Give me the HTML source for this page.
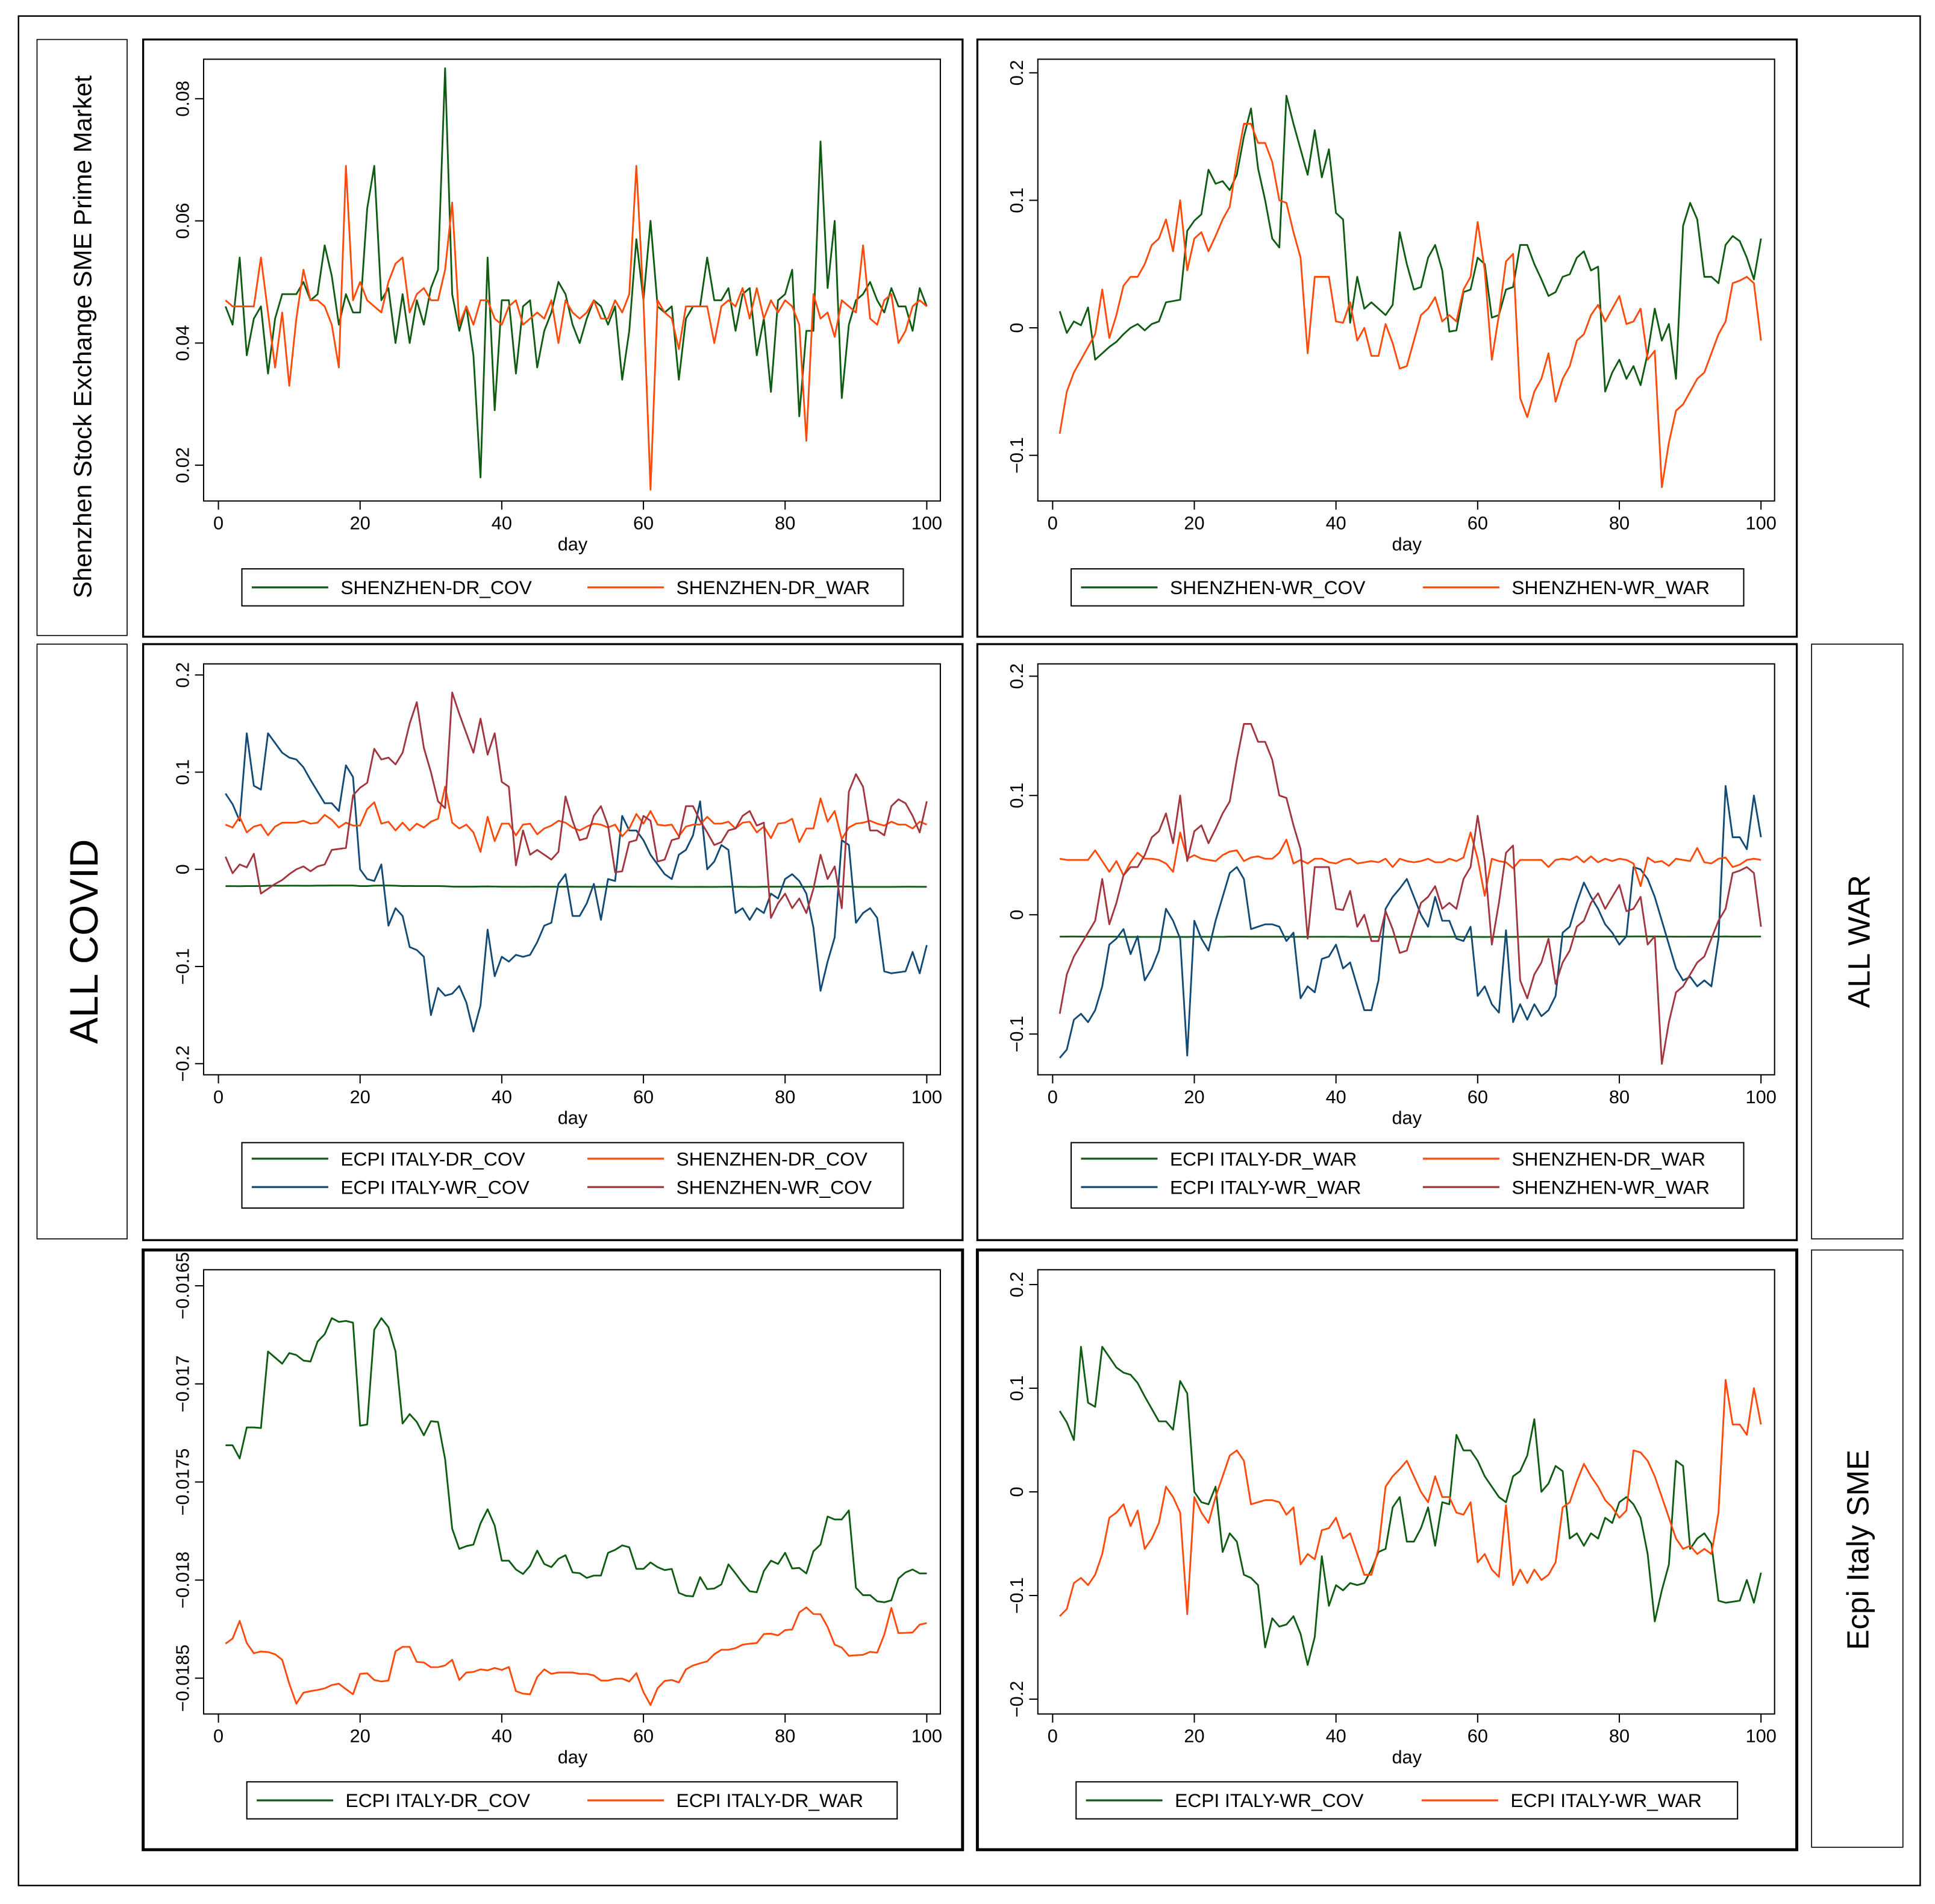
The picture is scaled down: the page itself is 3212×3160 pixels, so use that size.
<!DOCTYPE html>
<html><head><meta charset="utf-8"><style>
html,body{margin:0;padding:0;background:#fff}
svg{display:block}
text{font-family:"Liberation Sans",Arial,sans-serif;fill:#000}
</style></head><body>
<svg id="chart" width="3212" height="3160" viewBox="0 0 1568 1543" preserveAspectRatio="none" xmlns="http://www.w3.org/2000/svg">
<rect x="15" y="13" width="1541" height="1515" fill="none" stroke="#000" stroke-width="1.2"/>
<rect x="30" y="32" width="73" height="483" fill="none" stroke="#000" stroke-width="0.8"/>
<text transform="translate(74,273) rotate(-90)" text-anchor="middle" font-size="20.5">Shenzhen Stock Exchange SME Prime Market</text>
<rect x="30" y="522" width="73" height="482" fill="none" stroke="#000" stroke-width="0.8"/>
<text transform="translate(79,763) rotate(-90)" text-anchor="middle" font-size="32">ALL COVID</text>
<rect x="1468" y="522" width="74" height="482" fill="none" stroke="#000" stroke-width="0.8"/>
<text transform="translate(1515,763) rotate(-90)" text-anchor="middle" font-size="25">ALL WAR</text>
<rect x="1468" y="1013" width="74" height="484" fill="none" stroke="#000" stroke-width="0.8"/>
<text transform="translate(1514,1256) rotate(-90)" text-anchor="middle" font-size="25">Ecpi Italy SME</text>
<g id="panels"></g>
</svg>
<script>
const days = Array.from({length:100},(_,i)=>i+1);
const xTicks = [0,20,40,60,80,100];
const szDrCov = [0.046,0.043,0.054,0.038,0.044,0.046,0.035,0.044,0.048,0.048,0.048,0.050,0.047,0.048,0.056,0.051,0.043,0.048,0.045,0.045,0.062,0.069,0.047,0.049,0.040,0.048,0.040,0.047,0.043,0.049,0.052,0.085,0.048,0.042,0.046,0.038,0.018,0.054,0.029,0.047,0.047,0.035,0.046,0.047,0.036,0.042,0.045,0.050,0.048,0.043,0.040,0.044,0.047,0.046,0.043,0.046,0.034,0.042,0.057,0.047,0.060,0.046,0.045,0.046,0.034,0.044,0.046,0.046,0.054,0.047,0.047,0.049,0.042,0.048,0.049,0.038,0.044,0.032,0.047,0.048,0.052,0.028,0.042,0.042,0.073,0.049,0.060,0.031,0.043,0.047,0.048,0.050,0.047,0.045,0.049,0.046,0.046,0.042,0.049,0.046];
const szDrWar = [0.047,0.046,0.046,0.046,0.046,0.054,0.045,0.036,0.045,0.033,0.044,0.052,0.047,0.047,0.046,0.043,0.036,0.069,0.047,0.050,0.047,0.046,0.045,0.050,0.053,0.054,0.045,0.048,0.049,0.047,0.047,0.052,0.063,0.043,0.046,0.043,0.047,0.047,0.044,0.043,0.046,0.047,0.043,0.044,0.045,0.044,0.047,0.040,0.047,0.045,0.044,0.045,0.047,0.044,0.044,0.047,0.045,0.048,0.069,0.047,0.016,0.047,0.045,0.044,0.039,0.046,0.046,0.046,0.046,0.040,0.046,0.047,0.046,0.049,0.044,0.049,0.044,0.047,0.045,0.047,0.046,0.043,0.024,0.048,0.044,0.045,0.041,0.047,0.046,0.045,0.056,0.044,0.043,0.047,0.048,0.040,0.042,0.046,0.047,0.046];
const szWrCov = [0.013,-0.004,0.005,0.002,0.016,-0.025,-0.020,-0.015,-0.011,-0.005,0.000,0.003,-0.002,0.003,0.005,0.020,0.021,0.022,0.076,0.084,0.089,0.124,0.113,0.115,0.108,0.120,0.150,0.172,0.125,0.100,0.070,0.063,0.182,0.160,0.140,0.120,0.155,0.118,0.140,0.090,0.085,0.004,0.040,0.015,0.020,0.015,0.010,0.018,0.075,0.050,0.030,0.032,0.055,0.065,0.045,-0.003,-0.002,0.028,0.030,0.055,0.050,0.008,0.010,0.030,0.032,0.065,0.065,0.050,0.038,0.025,0.028,0.040,0.042,0.055,0.060,0.045,0.048,-0.050,-0.035,-0.025,-0.040,-0.030,-0.045,-0.020,0.015,-0.010,0.003,-0.040,0.080,0.098,0.085,0.040,0.040,0.035,0.065,0.072,0.068,0.055,0.038,0.070];
const szWrWar = [-0.083,-0.050,-0.035,-0.025,-0.015,-0.005,0.030,-0.008,0.010,0.033,0.040,0.040,0.050,0.065,0.070,0.085,0.060,0.100,0.045,0.070,0.075,0.060,0.072,0.085,0.095,0.130,0.160,0.160,0.145,0.145,0.130,0.100,0.098,0.075,0.055,-0.020,0.040,0.040,0.040,0.005,0.004,0.020,-0.010,0.000,-0.022,-0.022,0.003,-0.012,-0.032,-0.030,-0.010,0.010,0.015,0.024,0.005,0.010,0.005,0.030,0.040,0.083,0.045,-0.025,0.010,0.052,0.058,-0.055,-0.070,-0.050,-0.040,-0.020,-0.058,-0.040,-0.030,-0.010,-0.005,0.010,0.018,0.005,0.015,0.025,0.003,0.005,0.015,-0.025,-0.018,-0.125,-0.090,-0.065,-0.060,-0.050,-0.040,-0.035,-0.020,-0.005,0.005,0.035,0.037,0.040,0.035,-0.010];
const ecDrCov = [-0.017313,-0.017313,-0.01738,-0.017222,-0.017222,-0.017225,-0.016835,-0.016866,-0.016897,-0.016843,
-0.016853,-0.016881,-0.016886,-0.016784,-0.016747,-0.016665,-0.016684,-0.016679,-0.016688,-0.017213,
-0.017207,-0.016724,-0.016665,-0.016711,-0.016835,-0.017202,-0.017154,-0.017194,-0.017262,-0.01719,
-0.017194,-0.017383,-0.017738,-0.017841,-0.017827,-0.017819,-0.017711,-0.017639,-0.017722,-0.017901,
-0.017901,-0.017946,-0.017969,-0.017927,-0.01785,-0.017918,-0.017934,-0.017892,-0.017873,-0.017961,
-0.017965,-0.017989,-0.017977,-0.017977,-0.017861,-0.017846,-0.017823,-0.017833,-0.017943,-0.017943,
-0.01791,-0.017934,-0.017949,-0.017943,-0.018065,-0.01808,-0.018083,-0.017985,-0.018046,-0.018043,
-0.018022,-0.01792,-0.017966,-0.018015,-0.018057,-0.018062,-0.017954,-0.017901,-0.017918,-0.017861,
-0.017941,-0.017938,-0.017966,-0.017853,-0.017819,-0.017676,-0.017691,-0.017691,-0.017645,-0.018039,
-0.018077,-0.018077,-0.018108,-0.018113,-0.018103,-0.017992,-0.017961,-0.017946,-0.017966,-0.017966];
const ecDrWar = [-0.018324,-0.018298,-0.018208,-0.018321,-0.018373,-0.018364,-0.018367,-0.018378,-0.018406,-0.018528,
-0.01863,-0.018574,-0.018566,-0.01856,-0.018552,-0.018535,-0.018528,-0.018556,-0.018582,-0.018478,
-0.018475,-0.018509,-0.018517,-0.018512,-0.018363,-0.01834,-0.01834,-0.018417,-0.01842,-0.018444,
-0.018444,-0.018435,-0.018406,-0.018509,-0.018471,-0.018468,-0.018455,-0.01846,-0.018448,-0.018458,
-0.018443,-0.018566,-0.018579,-0.018582,-0.018494,-0.018455,-0.018478,-0.018471,-0.018471,-0.018471,
-0.018478,-0.018478,-0.018486,-0.018512,-0.018512,-0.018503,-0.018502,-0.018517,-0.018474,-0.018571,
-0.018637,-0.018551,-0.018514,-0.018509,-0.018522,-0.018455,-0.018435,-0.018424,-0.018414,-0.018378,
-0.018355,-0.018355,-0.018347,-0.018329,-0.018324,-0.018321,-0.018275,-0.018273,-0.018282,-0.018255,
-0.018252,-0.018165,-0.018139,-0.018173,-0.018174,-0.018239,-0.018329,-0.018344,-0.018386,-0.018383,
-0.018381,-0.018366,-0.01837,-0.018278,-0.018142,-0.01827,-0.018269,-0.018267,-0.018227,-0.018219];
const ecWrCov = [0.078,0.067,0.050,0.140,0.086,0.082,0.140,0.130,0.120,0.115,0.113,0.105,0.092,0.080,0.068,0.068,0.060,0.107,0.095,0.000,-0.010,-0.012,0.005,-0.058,-0.040,-0.048,-0.080,-0.083,-0.090,-0.150,-0.122,-0.130,-0.128,-0.120,-0.137,-0.167,-0.140,-0.062,-0.110,-0.090,-0.095,-0.088,-0.090,-0.088,-0.075,-0.058,-0.055,-0.015,-0.005,-0.048,-0.048,-0.035,-0.015,-0.052,-0.010,-0.012,0.055,0.040,0.040,0.030,0.015,0.005,-0.005,-0.010,0.015,0.020,0.035,0.070,0.000,0.008,0.025,0.020,-0.045,-0.040,-0.052,-0.040,-0.045,-0.025,-0.030,-0.010,-0.005,-0.012,-0.025,-0.060,-0.125,-0.095,-0.070,0.030,0.025,-0.055,-0.045,-0.040,-0.050,-0.105,-0.107,-0.106,-0.105,-0.085,-0.107,-0.078];
const ecWrWar = [-0.120,-0.113,-0.088,-0.083,-0.090,-0.080,-0.060,-0.025,-0.020,-0.012,-0.033,-0.018,-0.055,-0.045,-0.030,0.005,-0.005,-0.020,-0.118,-0.005,-0.020,-0.030,-0.005,0.015,0.035,0.040,0.030,-0.012,-0.010,-0.008,-0.008,-0.010,-0.022,-0.015,-0.070,-0.060,-0.065,-0.037,-0.035,-0.025,-0.045,-0.040,-0.060,-0.080,-0.080,-0.055,0.005,0.015,0.022,0.030,0.015,0.000,-0.010,0.015,-0.005,-0.005,-0.020,-0.022,-0.010,-0.068,-0.060,-0.075,-0.082,-0.013,-0.090,-0.075,-0.088,-0.075,-0.085,-0.080,-0.068,-0.015,-0.010,0.010,0.027,0.015,0.005,-0.008,-0.015,-0.025,-0.018,0.040,0.038,0.030,0.015,-0.005,-0.025,-0.045,-0.055,-0.052,-0.060,-0.055,-0.060,-0.020,0.108,0.065,0.065,0.055,0.100,0.065];
const ticksTL = [0.02,0.04,0.06,0.08];
const labelsTL = ["0.02","0.04","0.06","0.08"];
const ticksWide = [-0.2,-0.1,0,0.1,0.2];
const labelsWide = ["\u22120.2","\u22120.1","0","0.1","0.2"];
const ticksTR = [-0.1,0,0.1,0.2];
const labelsTR = ["\u22120.1","0","0.1","0.2"];
const ticksBL = [-0.0185,-0.018,-0.0175,-0.017,-0.0165];
const labelsBL = ["\u22120.0185","\u22120.018","\u22120.0175","\u22120.017","\u22120.0165"];

const GREEN="#0e5c12", ORANGE="#ff4a0a", NAVY="#114a76", MAROON="#a2353d";
const NS="http://www.w3.org/2000/svg";
const root=document.getElementById('panels');
function mk(tag,attrs,parent){const e=document.createElementNS(NS,tag);for(const k in attrs)e.setAttribute(k,attrs[k]);(parent||root).appendChild(e);return e;}

function panel(cfg){
  const g=mk('g',{});
  
  
  const ox=cfg.ox, oy=cfg.oy;
  const frame=mk('rect',{x:ox,y:oy,width:664,height:cfg.h,fill:'none',stroke:'#000','stroke-width':cfg.thick?2.4:1.6},g);
  
  
  const px0=ox+49, px1=ox+646, py0=oy+16, py1=cfg.py1;
  const dx0=ox+61, dx1=ox+635;
  const xs=d=>dx0+(dx1-dx0)*d/100;
  const ys=v=>cfg.yp0+(cfg.yp1-cfg.yp0)*(v-cfg.yv0)/(cfg.yv1-cfg.yv0);
  const box=mk('rect',{x:px0,y:py0,width:px1-px0,height:py1-py0,fill:'none',stroke:'#000','stroke-width':1},g);
  
  
  cfg.yt.forEach((v,i)=>{
    const y=ys(v);
    const tk=mk('line',{x1:px0-7,x2:px0,y1:y,y2:y,stroke:'#000','stroke-width':1},g);
    
    
    const t=mk('text',{transform:`translate(${px0-12},${y}) rotate(-90)`,'text-anchor':'middle','font-size':15},g);
    
    
    t.textContent=cfg.yl[i];
  });
  xTicks.forEach(d=>{
    const x=xs(d);
    const tk=mk('line',{x1:x,x2:x,y1:py1,y2:py1+7,stroke:'#000','stroke-width':1},g);
    
    
    const t=mk('text',{x:x,y:py1+23,'text-anchor':'middle','font-size':15},g);
    
    
    t.textContent=d;
  });
  const xt=mk('text',{x:(dx0+dx1)/2,y:py1+40,'text-anchor':'middle','font-size':15},g);
  
  
  xt.textContent='day';
  cfg.series.forEach(s=>{
    const pts=s.data.map((v,i)=>xs(days[i]).toFixed(2)+','+ys(v).toFixed(2)).join(' ');
    const pl=mk('polyline',{points:pts,fill:'none',stroke:s.color,'stroke-width':1.4,'stroke-linejoin':'round'},g);
    
    
  });
  const lx=ox+cfg.lx, lw=cfg.lw, rows=Math.ceil(cfg.series.length/2);
  const ly=py1+55, lh=rows===1?30:53;
  const lg=mk('g',{},g);
  
  
  mk('rect',{x:lx,y:ly,width:lw,height:lh,fill:'none',stroke:'#000','stroke-width':1},lg);
  cfg.legendOrder.forEach((si,k)=>{
    const s=cfg.series[si];
    const col=k%2, row=Math.floor(k/2);
    const ex=lx+8+col*cfg.colW, ey=ly+(rows===1?15:13+row*23);
    const ln=mk('line',{x1:ex,x2:ex+62,y1:ey,y2:ey,stroke:s.color,'stroke-width':1.6},lg);
    
    
    const t=mk('text',{x:ex+72,y:ey+5.5,'font-size':15.5},lg);
    
    
    t.textContent=s.label;
  });
}

panel({name:'panel-shenzhen-dr',ox:116,oy:32,h:484,py1:406,yv0:0.08,yp0:80,yv1:0.02,yp1:377,yt:ticksTL,yl:labelsTL,lx:80,lw:536,colW:272,thick:false,
  series:[{data:szDrCov,color:GREEN,label:'SHENZHEN-DR_COV'},{data:szDrWar,color:ORANGE,label:'SHENZHEN-DR_WAR'}],legendOrder:[0,1]});
panel({name:'panel-shenzhen-wr',ox:792,oy:32,h:484,py1:406,yv0:0.2,yp0:59,yv1:-0.1,yp1:369,yt:ticksTR,yl:labelsTR,lx:76,lw:545,colW:277,thick:false,
  series:[{data:szWrCov,color:GREEN,label:'SHENZHEN-WR_COV'},{data:szWrWar,color:ORANGE,label:'SHENZHEN-WR_WAR'}],legendOrder:[0,1]});
panel({name:'panel-all-covid',ox:116,oy:522,h:483,py1:871,yv0:0.2,yp0:547,yv1:-0.2,yp1:862,yt:ticksWide,yl:labelsWide,lx:80,lw:536,colW:272,thick:false,
  series:[{data:ecDrCov,color:GREEN,label:'ECPI ITALY-DR_COV'},{data:ecWrCov,color:NAVY,label:'ECPI ITALY-WR_COV'},{data:szDrCov,color:ORANGE,label:'SHENZHEN-DR_COV'},{data:szWrCov,color:MAROON,label:'SHENZHEN-WR_COV'}],legendOrder:[0,2,1,3]});
panel({name:'panel-all-war',ox:792,oy:522,h:483,py1:871,yv0:0.2,yp0:548,yv1:-0.1,yp1:838,yt:ticksTR,yl:labelsTR,lx:76,lw:545,colW:277,thick:false,
  series:[{data:ecDrWar,color:GREEN,label:'ECPI ITALY-DR_WAR'},{data:ecWrWar,color:NAVY,label:'ECPI ITALY-WR_WAR'},{data:szDrWar,color:ORANGE,label:'SHENZHEN-DR_WAR'},{data:szWrWar,color:MAROON,label:'SHENZHEN-WR_WAR'}],legendOrder:[0,2,1,3]});
panel({name:'panel-ecpi-dr',ox:116,oy:1013,h:486,py1:1389,yv0:-0.0165,yp0:1042,yv1:-0.0185,yp1:1360,yt:ticksBL,yl:labelsBL,lx:84,lw:527,colW:268,thick:true,
  series:[{data:ecDrCov,color:GREEN,label:'ECPI ITALY-DR_COV'},{data:ecDrWar,color:ORANGE,label:'ECPI ITALY-DR_WAR'}],legendOrder:[0,1]});
panel({name:'panel-ecpi-wr',ox:792,oy:1013,h:486,py1:1389,yv0:0.2,yp0:1041,yv1:-0.2,yp1:1377,yt:ticksWide,yl:labelsWide,lx:80,lw:536,colW:272,thick:true,
  series:[{data:ecWrCov,color:GREEN,label:'ECPI ITALY-WR_COV'},{data:ecWrWar,color:ORANGE,label:'ECPI ITALY-WR_WAR'}],legendOrder:[0,1]});
</script>
</body></html>
